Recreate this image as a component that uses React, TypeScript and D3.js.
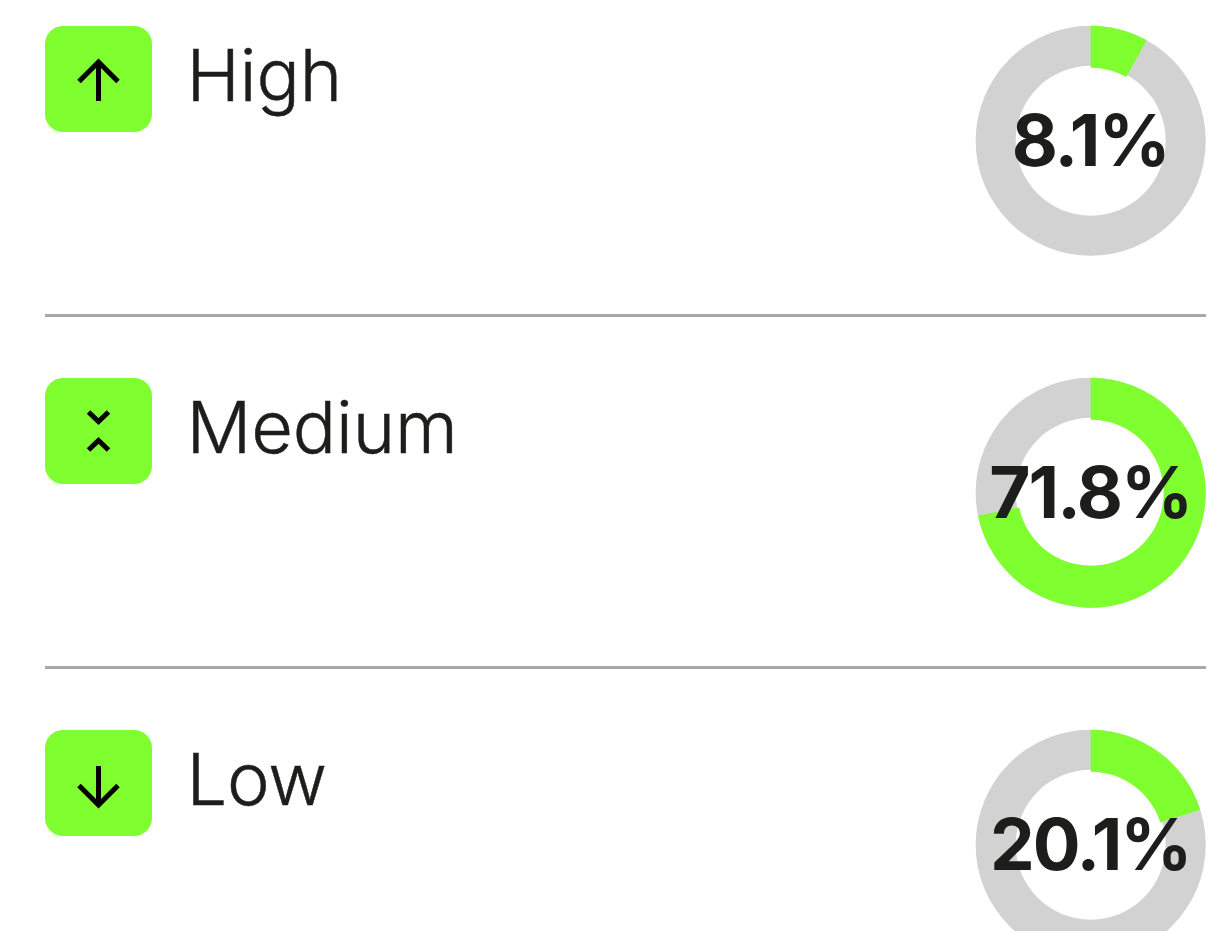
import React from "react";
import * as d3 from "d3";

const levels = ["High", "Medium", "Low"];
const shares = [8.1, 71.8, 20.1];
const shareLabels = ["8.1%", "71.8%", "20.1%"];
const icons = ["up", "updown", "down"];

const GREEN = "#80ff30";
const GRAY = "#d2d2d2";
const INK = "#1d1d1b";
const rowScale = d3.scaleLinear().domain([0, 1]).range([0, 352]);
const angle = d3.scaleLinear().domain([0, 100]).range([0, 2 * Math.PI]);
const ringGray = d3.arc<any>().innerRadius(75).outerRadius(115);
const ringGreen = d3.arc<any>().innerRadius(73).outerRadius(115);

function Icon({ kind }: { kind: string }) {
  const common = { fill: "none", stroke: "#000", strokeWidth: 5 } as const;
  if (kind === "up")
    return <path {...common} d="M98.5 101V62M79 81.5L98.5 62L118 81.5" />;
  if (kind === "down")
    return <path {...common} d="M98.5 62V101M79 81.5L98.5 101L118 81.5" />;
  return <path {...common} d="M88.5 60L98.5 69.5L108.5 60M88.5 98L98.5 88.5L108.5 98" />;
}

export default function App() {
  return (
    <svg
      width={1225}
      height={931}
      style={{ position: "absolute", left: 0, top: 0, background: "#fff" }}
    >
      {levels.map((name, i) => {
        const y = rowScale(i);
        const end = angle(shares[i]);
        return (
          <g key={name} transform={`translate(0,${y})`}>
            <rect x={45} y={26} width={107} height={106} rx={18} fill={GREEN} />
            <Icon kind={icons[i]} />
            <text
              x={186.5}
              y={101}
              fontFamily="Inter, sans-serif"
              fontWeight={300}
              fontSize={72}
              letterSpacing={-0.1}
              stroke={INK}
              strokeWidth={0.5}
              fill={INK}
            >
              {name}
            </text>
            <g transform="translate(1090.7,140.7)">
              <path d={ringGray({ startAngle: 0, endAngle: 2 * Math.PI })!} fill={GRAY} />
              <path d={ringGreen({ startAngle: 0, endAngle: end })!} fill={GREEN} />
              <text
                x={-0.5}
                y={25}
                textAnchor="middle"
                fontFamily="Inter, sans-serif"
                fontWeight={700}
                fontSize={71}
                letterSpacing={-2}
                fill={INK}
              >
                {shareLabels[i]}
              </text>
            </g>
            {i < 2 && <rect x={45} y={314} width={1161} height={3} fill="#a8a8a8" />}
          </g>
        );
      })}
    </svg>
  );
}
